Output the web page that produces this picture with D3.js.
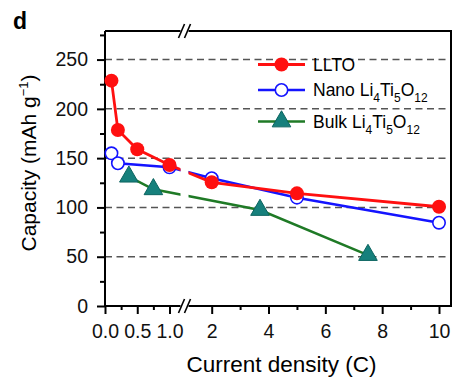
<!DOCTYPE html>
<html>
<head>
<meta charset="utf-8">
<script src="https://cdn.jsdelivr.net/npm/d3@7"></script>
<style>
  body { margin: 0; background: #fff; }
  svg { font-family: "Liberation Sans", Arial, Helvetica, sans-serif; }
</style>
</head>
<body>
<script>
const width = 454,
    height = 377

// data
const lltoX = [0.1, 0.2, 0.5, 1.0, 2, 5, 10]
const lltoY = [228.6, 178.6, 159, 143, 125.5, 114.3, 100.7]
const nanoX = [0.1, 0.2, 1.0, 2, 5, 10]
const nanoY = [154.9, 144.8, 140.7, 129.6, 109.9, 84.5]
const bulkX = [0.37, 0.75, 3.7, 7.5]
const bulkY = [131.2, 118.4, 97.4, 51.7]

const yTicks = [0, 50, 100, 150, 200, 250]
const yMinor = [25, 75, 125, 175, 225, 275]
const x1Ticks = [0, 0.5, 1.0]
const x1Minor = [0.25, 0.75]
const x2Ticks = [2, 4, 6, 8, 10]
const x2Minor = [3, 5, 7, 9]

const pLeft = 105, pRight = 451, pTop = 31, pBottom = 306
const breakX = 184.5

const svg = d3.select("body")
    .append("svg")
    .attr("width", width)
    .attr("height", height)

const y = d3.scaleLinear().domain([0, 280]).range([pBottom, 30])
const x1 = d3.scaleLinear().domain([0, 1]).range([pLeft, 169.5])
const x2 = d3.scaleLinear().domain([2, 10]).range([211.7, 439])
const X = v => v <= 1.5 ? x1(v) : x2(v)

// grid
svg.append("g")
    .selectAll("line")
    .data(yTicks.filter(d => d > 0))
    .join("line")
    .attr("x1", pLeft).attr("x2", pRight)
    .attr("y1", d => y(d)).attr("y2", d => y(d))
    .attr("stroke", "#555")
    .attr("stroke-width", 1.5)
    .attr("stroke-dasharray", "7,4.5")

// y axis
const yAxis = svg.append("g").attr("transform", `translate(${pLeft},0)`)
yAxis.call(d3.axisLeft(y).tickValues(yTicks).tickSize(8).tickPadding(9))
yAxis.append("g").call(d3.axisLeft(y).tickValues(yMinor).tickSize(5).tickFormat(""))

// x axes
const xAxis1 = svg.append("g").attr("transform", `translate(0,${pBottom})`)
xAxis1.call(d3.axisBottom(x1).tickValues(x1Ticks).tickSize(8).tickPadding(10).tickFormat(d3.format(".1f")))
xAxis1.append("g").call(d3.axisBottom(x1).tickValues(x1Minor).tickSize(4).tickFormat(""))
const xAxis2 = svg.append("g").attr("transform", `translate(0,${pBottom})`)
xAxis2.call(d3.axisBottom(x2).tickValues(x2Ticks).tickSize(8).tickPadding(10))
xAxis2.append("g").call(d3.axisBottom(x2).tickValues(x2Minor).tickSize(4).tickFormat(""))
svg.selectAll(".domain").remove()
svg.selectAll(".tick line").attr("stroke-width", 2)
svg.selectAll(".tick text").attr("font-size", 19.5).attr("fill", "#111")
svg.selectAll("g").filter(function() { return this.hasAttribute("font-family") }).attr("font-family", null)

// frame with breaks
const frame = svg.append("g").attr("stroke", "#000").attr("stroke-width", 2).attr("fill", "none")
frame.append("path").attr("d", `M${pLeft},${pTop}V${pBottom}H${breakX - 4}`)
frame.append("path").attr("d", `M${breakX + 4},${pBottom}H${pRight}V${pTop}H${breakX + 4}`)
frame.append("path").attr("d", `M${breakX - 4},${pTop}H${pLeft}`)
;[pBottom, pTop].forEach(yy => {
    [-3, 3].forEach(dx => {
        frame.append("line")
            .attr("x1", breakX + dx - 3).attr("y1", yy + 7)
            .attr("x2", breakX + dx + 3).attr("y2", yy - 7)
            .attr("stroke-width", 1.6)
    })
})

// clip out the break
const defs = svg.append("defs")
const clip = defs.append("clipPath").attr("id", "brk")
clip.append("rect").attr("x", 0).attr("y", 0).attr("width", 180.5).attr("height", height)
clip.append("rect").attr("x", 188.5).attr("y", 0).attr("width", width).attr("height", height)

const plot = svg.append("g").attr("clip-path", "url(#brk)")
const line = d3.line().x(d => X(d[0])).y(d => y(d[1]))

const green = "#1f7a26", teal = "#16807c"
const tri = d3.symbol().type(d3.symbolTriangle).size(150)

const bulk = d3.zip(bulkX, bulkY)
plot.append("path").datum(bulk).attr("d", line)
    .attr("fill", "none").attr("stroke", green).attr("stroke-width", 2.5)
plot.selectAll(".bulk").data(bulk).join("path")
    .attr("transform", d => `translate(${X(d[0])},${y(d[1])})`)
    .attr("d", tri).attr("fill", teal).attr("stroke", "#0c6460").attr("stroke-width", 1)

const nano = d3.zip(nanoX, nanoY)
plot.append("path").datum(nano).attr("d", line)
    .attr("fill", "none").attr("stroke", "#1414ff").attr("stroke-width", 2.5)
plot.selectAll(".nano").data(nano).join("circle")
    .attr("cx", d => X(d[0])).attr("cy", d => y(d[1])).attr("r", 6.2)
    .attr("fill", "#fff").attr("stroke", "#1414ff").attr("stroke-width", 1.6)

const llto = d3.zip(lltoX, lltoY)
plot.append("path").datum(llto).attr("d", line)
    .attr("fill", "none").attr("stroke", "#ff1010").attr("stroke-width", 2.8)
plot.selectAll(".llto").data(llto).join("circle")
    .attr("cx", d => X(d[0])).attr("cy", d => y(d[1])).attr("r", 7)
    .attr("fill", "#ff1010")

// legend
const legend = svg.append("g")
const lx0 = 258, lx1 = 305, lm = 281.5, tx = 313

const l1 = 64.5
legend.append("line").attr("x1", lx0).attr("x2", lx1).attr("y1", l1).attr("y2", l1)
    .attr("stroke", "#ff1010").attr("stroke-width", 3)
legend.append("circle").attr("cx", lm).attr("cy", l1).attr("r", 7).attr("fill", "#ff1010")
legend.append("text").attr("x", tx).attr("y", l1 + 6).attr("font-size", 17.5).text("LLTO")

function formula(g, prefix, yy) {
    const t = g.append("text").attr("x", tx).attr("y", yy + 6).attr("font-size", 17.5)
    t.append("tspan").text(prefix + " Li")
    t.append("tspan").attr("font-size", 12).attr("dy", 6).text("4")
    t.append("tspan").attr("dy", -6).text("Ti")
    t.append("tspan").attr("font-size", 12).attr("dy", 6).text("5")
    t.append("tspan").attr("dy", -6).text("O")
    t.append("tspan").attr("font-size", 12).attr("dy", 6).text("12")
}

const l2 = 90
legend.append("line").attr("x1", lx0).attr("x2", lx1).attr("y1", l2).attr("y2", l2)
    .attr("stroke", "#1414ff").attr("stroke-width", 2.5)
legend.append("circle").attr("cx", lm).attr("cy", l2).attr("r", 6.2)
    .attr("fill", "#fff").attr("stroke", "#1414ff").attr("stroke-width", 1.6)
formula(legend, "Nano", l2)

const l3 = 121.5
legend.append("line").attr("x1", lx0).attr("x2", lx1).attr("y1", l3).attr("y2", l3)
    .attr("stroke", green).attr("stroke-width", 2.5)
legend.append("path").attr("transform", `translate(${lm},${l3})`)
    .attr("d", tri).attr("fill", teal).attr("stroke", "#0c6460").attr("stroke-width", 1)
formula(legend, "Bulk", l3)

// axis titles
svg.append("text")
    .attr("x", 281.5).attr("y", 372)
    .attr("text-anchor", "middle").attr("font-size", 22.5)
    .text("Current density (C)")

const yl = svg.append("text")
    .attr("transform", `translate(36,163) rotate(-90)`)
    .attr("text-anchor", "middle").attr("font-size", 21)
yl.append("tspan").text("Capacity (mAh g")
yl.append("tspan").attr("font-size", 13).attr("dy", -8).text("−1")
yl.append("tspan").attr("dy", 8).text(")")

svg.append("text")
    .attr("x", 13).attr("y", 29)
    .attr("font-size", 23).attr("font-weight", "bold")
    .text("d")
</script>
</body>
</html>
